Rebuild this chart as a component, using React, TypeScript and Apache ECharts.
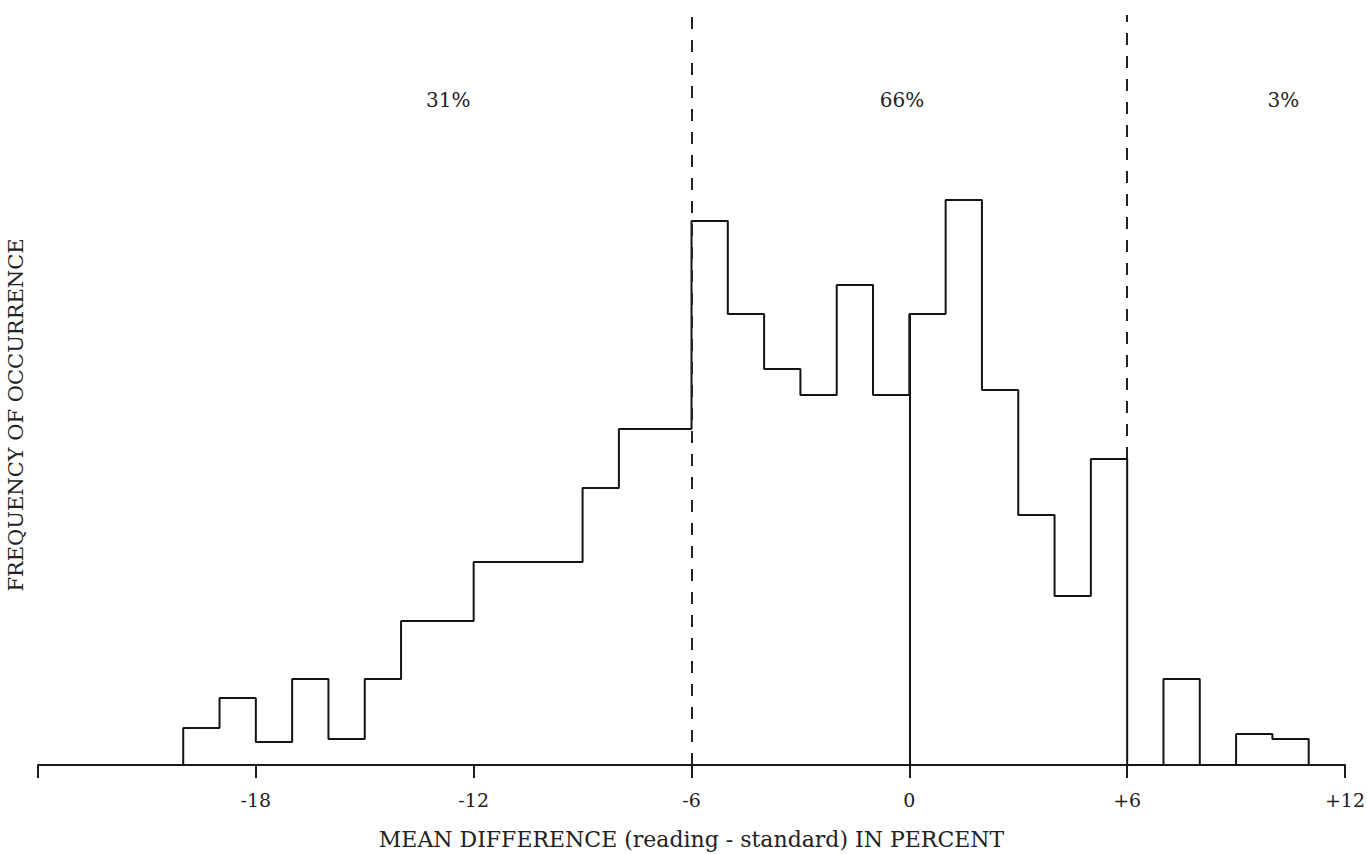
import React, { useEffect, useRef } from "react";
import * as echarts from "echarts";

// Histogram bins: left edges (percent) and frequency heights (arbitrary units)
const binLeftEdges = [
  -20, -19, -18, -17, -16, -15, -14, -13, -12, -11, -10, -9, -8, -7, -6, -5,
  -4, -3, -2, -1, 0, 1, 2, 3, 4, 5, 6, 7, 8, 9, 10,
];
const binValues = [
  3.7, 6.7, 2.3, 8.6, 2.6, 8.6, 14.4, 14.4, 20.3, 20.3, 20.3, 27.7, 33.6, 33.6,
  54.4, 45.1, 39.6, 37.0, 48.0, 37.0, 45.1, 56.5, 37.5, 25.0, 16.9, 30.6, 0,
  8.6, 0, 3.1, 2.6,
];
const binWidth = 1;

// Dashed limit lines (percent)
const limitLines = [-6, 6];

// Region share annotations
const shareLabels = ["31%", "66%", "3%"];
const shareX = [-12.7, -0.2, 10.3];
const shareY = 66.5;

// Axis
const xMin = -24;
const xMax = 12;
const xInterval = 6;
const yMax = 75;
const yTitle = "FREQUENCY OF OCCURRENCE";
const xTitle = "MEAN DIFFERENCE (reading - standard) IN PERCENT";

const FONT = "DejaVu Serif";

function valueAt(x: number): number {
  const i = binLeftEdges.indexOf(x);
  return i >= 0 ? binValues[i] : 0;
}

export default function App() {
  const ref = useRef<HTMLDivElement>(null);

  useEffect(() => {
    if (!ref.current) return;
    const chart = echarts.init(ref.current, null, { renderer: "svg" });

    // step outline points
    const pts: number[][] = [];
    pts.push([binLeftEdges[0], 0]);
    binLeftEdges.forEach((lo, i) => {
      pts.push([lo, binValues[i]]);
      pts.push([lo + binWidth, binValues[i]]);
    });
    const lastEdge = binLeftEdges[binLeftEdges.length - 1] + binWidth;
    pts.push([lastEdge, 0]);

    const leftDash = limitLines[0];
    const rightDash = limitLines[1];
    // right dashed line stops at the top of the bar that ends at +6
    const rightBarTop = valueAt(rightDash - binWidth);

    chart.setOption({
      animation: false,
      backgroundColor: "#ffffff",
      grid: { left: 38, right: 22, top: 15, bottom: 89, outerBoundsMode: "none", containLabel: false },
      graphic: [
        {
          type: "text",
          x: 16,
          y: 415,
          rotation: Math.PI / 2,
          style: {
            text: yTitle,
            fontFamily: FONT,
            fontSize: 21,
            fill: "#222",
            align: "center",
            verticalAlign: "middle",
          },
        },
      ],
      xAxis: {
        type: "value",
        min: xMin,
        max: xMax,
        interval: xInterval,
        splitLine: { show: false },
        axisLine: { show: true, lineStyle: { color: "#1a1a1a", width: 2 } },
        axisTick: {
          show: true,
          inside: false,
          length: 13,
          lineStyle: { color: "#1a1a1a", width: 2 },
        },
        axisLabel: {
          margin: 25,
          fontFamily: FONT,
          fontSize: 19,
          color: "#222",
          formatter: (v: number) =>
            v === xMin ? "" : v > 0 ? "+" + v : String(v),
        },
        name: xTitle,
        nameLocation: "middle",
        nameGap: 63,
        nameTextStyle: { fontFamily: FONT, fontSize: 22, color: "#222" },
      },
      yAxis: {
        type: "value",
        min: 0,
        max: yMax,
        splitLine: { show: false },
        axisLine: { show: false },
        axisTick: { show: false },
        axisLabel: { show: false },
      },
      series: [
        {
          type: "line",
          data: pts,
          symbol: "none",
          lineStyle: { color: "#141414", width: 2 },
          silent: true,
          markLine: {
            silent: true,
            symbol: ["none", "none"],
            label: { show: false },
            data: [
              [
                { coord: [leftDash, 0], lineStyle: { type: [12, 11], color: "#222", width: 2 } },
                { coord: [leftDash, yMax] },
              ],
              [
                { coord: [rightDash, rightBarTop], lineStyle: { type: [12, 11], color: "#222", width: 2 } },
                { coord: [rightDash, yMax] },
              ],
              [
                { coord: [0, 0], lineStyle: { type: "solid", color: "#141414", width: 2 } },
                { coord: [0, valueAt(0)] },
              ],
            ],
          },
          markPoint: {
            silent: true,
            symbol: "rect",
            symbolSize: 1,
            itemStyle: { color: "rgba(0,0,0,0)" },
            label: {
              show: true,
              position: "inside",
              formatter: "{b}",
              fontFamily: FONT,
              fontSize: 20,
              color: "#222",
            },
            data: shareLabels.map((s, i) => ({
              name: s,
              coord: [shareX[i], shareY],
            })),
          },
        },
      ],
    });

    return () => chart.dispose();
  }, []);

  return (
    <div
      ref={ref}
      style={{ position: "fixed", left: 0, top: 0, width: 1367, height: 854, background: "#fff" }}
    />
  );
}
